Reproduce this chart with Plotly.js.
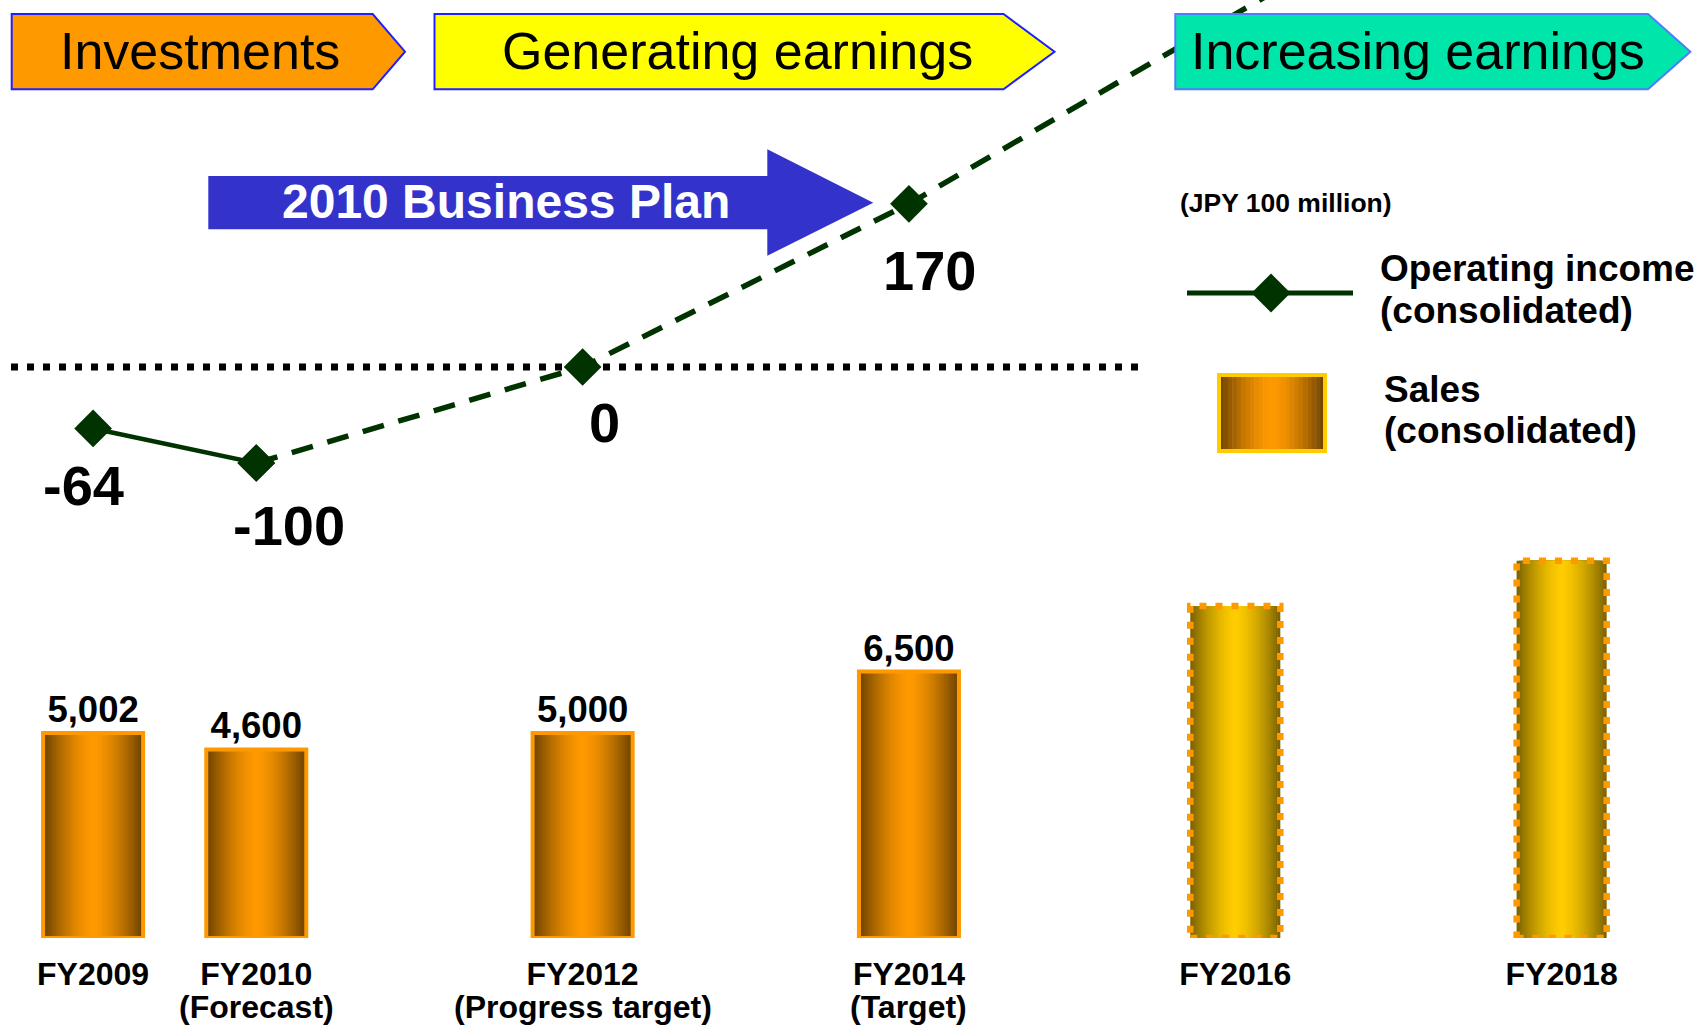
<!DOCTYPE html>
<html><head><meta charset="utf-8">
<script src="https://cdn.plot.ly/plotly-3.0.1.min.js"></script>
<style>html,body{margin:0;padding:0;background:#fff;overflow:hidden;} #chart{width:1701px;height:1026px;}</style>
</head><body><div id="chart"></div>
<script>
// ---------------- data ----------------
const salesYears = [2009, 2010, 2012, 2014, 2016, 2018];
const salesValues = [5002, 4600, 5000, 6500, 8100, 9200];
const salesOutlook = [false, false, false, false, true, true];
const tickLabels = ['FY2009', 'FY2010', 'FY2012', 'FY2014', 'FY2016', 'FY2018'];
const tickNotes = ['', '(Forecast)', '(Progress target)', '(Target)', '', ''];

const opYears = [2009, 2010, 2012, 2014, 2018];
const opValues = [-64, -100, 0, 170, 565];
const opActual = [true, true, false, false, false];
const opLabeled = [true, true, true, true, false];

const phaseLabels = ['Investments', 'Generating earnings', 'Increasing earnings'];
const planLabel = '2010 Business Plan';
const unitLabel = '(JPY 100 million)';
const legendOpLines = ['Operating income', '(consolidated)'];
const legendSalesLines = ['Sales', '(consolidated)'];

// ---------------- layout helpers ----------------
const W = 1701, H = 1026, MB = 88, PH = H - MB;
const FONT = 'Liberation Sans, Arial, sans-serif';
const px = x => x / W;
const py = y => (PH - y) / PH;
function mix(c1, c2, t) {
  const r = c1.map((v, i) => Math.round(v + (c2[i] - v) * t));
  return 'rgb(' + r.join(',') + ')';
}
const ORANGE_C = [255, 153, 0], ORANGE_E = [106, 64, 0];
const GOLD_C = [255, 204, 0], GOLD_E = [122, 96, 0];
const BW_MAIN = 0.613, BW_OUT = 0.552;
const NL = 20, GAMMA = 1.5;

const traces = [];
// gradient-filled bars built as overlaid layers of narrowing bars
for (let k = 0; k < NL; k++) {
  const f0 = 1 - k / NL, f1 = 1 - (k + 1) / NL;
  const t = Math.pow((f0 + f1) / 2, GAMMA);
  traces.push({
    type: 'bar', x: salesYears, y: salesValues,
    width: salesOutlook.map(o => (o ? BW_OUT : BW_MAIN) * f0),
    marker: { color: salesOutlook.map(o => o ? mix(GOLD_C, GOLD_E, t) : mix(ORANGE_C, ORANGE_E, t)), line: { width: 0 } },
    hoverinfo: 'skip', showlegend: false
  });
}
// outline + value labels
traces.push({
  type: 'bar', x: salesYears, y: salesValues,
  width: salesOutlook.map(o => o ? BW_OUT : BW_MAIN),
  marker: { color: 'rgba(0,0,0,0)', line: { color: '#FF9900', width: salesOutlook.map(o => o ? 0 : 4) } },
  text: salesValues.map((v, i) => salesOutlook[i] ? '' : v.toLocaleString('en-US')),
  textposition: 'outside', cliponaxis: false,
  textfont: { family: FONT, size: 36.5, color: '#000', weight: 'bold' },
  hoverinfo: 'skip', showlegend: false
});

// operating income line
const lastActual = opActual.lastIndexOf(true);
traces.push({
  type: 'scatter', mode: 'lines+markers', yaxis: 'y2',
  x: opYears.slice(0, lastActual + 1), y: opValues.slice(0, lastActual + 1),
  line: { color: '#003300', width: 4.5 },
  marker: { symbol: 'diamond', size: 29, color: '#003300' },
  hoverinfo: 'skip', showlegend: false
});
traces.push({
  type: 'scatter', mode: 'lines+markers', yaxis: 'y2',
  x: opYears.slice(lastActual), y: opValues.slice(lastActual),
  line: { color: '#003300', width: 5.5, dash: '22px,15px' },
  marker: { symbol: 'diamond', size: 29, color: '#003300' },
  hoverinfo: 'skip', showlegend: false
});

// ---------------- shapes ----------------
const shapes = [];
// zero reference line for operating income
shapes.push({ type: 'line', xref: 'paper', yref: 'y2', x0: px(11), x1: px(1139), y0: 0, y1: 0,
  line: { color: '#000', width: 7, dash: '7px,9px' }, layer: 'below' });
// dotted outlines of outlook bars
salesYears.forEach((yr, i) => {
  if (salesOutlook[i]) shapes.push({ type: 'rect', xref: 'x', yref: 'y',
    x0: yr - BW_OUT / 2, x1: yr + BW_OUT / 2, y0: 0, y1: salesValues[i],
    line: { color: '#FF9900', width: 6.5, dash: '7px,9px' }, fillcolor: 'rgba(0,0,0,0)', layer: 'above' });
});
// phase header arrows
const phaseBoxes = [
  { x0: 11.7, x1: 372.7, tip: 405, cx: 200, fill: '#FF9900', line: '#1F1FFF' },
  { x0: 434.5, x1: 1003.5, tip: 1054.5, cx: 737, fill: '#FFFF00', line: '#1F1FFF' },
  { x0: 1175.3, x1: 1648, tip: 1690.4, cx: 1418, fill: '#00E6AA', line: '#4D7CFF' }
];
const pth = pts => 'M ' + pts.map(p => px(p[0]) + ',' + py(p[1])).join(' L ') + ' Z';
phaseBoxes.forEach(b => {
  shapes.push({ type: 'path', xref: 'paper', yref: 'paper', layer: 'above',
    path: pth([[b.x0, 14], [b.x1, 14], [b.tip, 51.7], [b.x1, 89.3], [b.x0, 89.3]]),
    fillcolor: b.fill, line: { color: b.line, width: 2 } });
});
// business plan arrow
shapes.push({ type: 'path', xref: 'paper', yref: 'paper', layer: 'above',
  path: pth([[208.3, 176], [767.3, 176], [767.3, 149.3], [873.3, 202.7], [767.3, 255.7], [767.3, 229.3], [208.3, 229.3]]),
  fillcolor: '#3333CC', line: { width: 0 } });
// legend: line with diamond
shapes.push({ type: 'line', xref: 'paper', yref: 'paper', x0: px(1187), x1: px(1353), y0: py(293), y1: py(293),
  line: { color: '#003300', width: 5 }, layer: 'above' });
shapes.push({ type: 'path', xref: 'paper', yref: 'paper', layer: 'above',
  path: pth([[1271, 273.5], [1290.5, 293], [1271, 312.5], [1251.5, 293]]), fillcolor: '#003300', line: { width: 0 } });
// legend: gradient box
const LX0 = 1219, LX1 = 1325, LY0 = 375, LY1 = 451, NS = 24;
for (let s = 0; s < NS; s++) {
  const a = LX0 + (LX1 - LX0) * s / NS, b = LX0 + (LX1 - LX0) * (s + 1) / NS;
  const mid = (a + b) / 2, c = (LX0 + LX1) / 2;
  const t = Math.pow(Math.abs(mid - c) / ((LX1 - LX0) / 2), GAMMA);
  shapes.push({ type: 'rect', xref: 'paper', yref: 'paper', layer: 'above',
    x0: px(a), x1: px(b + 0.5), y0: py(LY1), y1: py(LY0), fillcolor: mix(ORANGE_C, ORANGE_E, t), line: { width: 0 } });
}
shapes.push({ type: 'rect', xref: 'paper', yref: 'paper', layer: 'above',
  x0: px(LX0), x1: px(LX1), y0: py(LY1), y1: py(LY0), fillcolor: 'rgba(0,0,0,0)', line: { color: '#FFCC00', width: 4 } });

// ---------------- annotations ----------------
const ann = [];
const C = { xanchor: 'center', yanchor: 'middle', showarrow: false };
phaseLabels.forEach((t, i) => ann.push(Object.assign({ xref: 'paper', yref: 'paper', x: px(phaseBoxes[i].cx), y: py(50.5),
  text: t, font: { family: FONT, size: 52, color: '#000' } }, C)));
ann.push(Object.assign({ xref: 'paper', yref: 'paper', x: px(506), y: py(201.5), text: planLabel,
  font: { family: FONT, size: 48, color: '#FFF', weight: 'bold' } }, C));
ann.push(Object.assign({ xref: 'paper', yref: 'paper', x: px(1286), y: py(203), text: unitLabel,
  font: { family: FONT, size: 26.5, color: '#000', weight: 'bold' } }, C));
const legFont = { family: FONT, size: 37, color: '#000', weight: 'bold' };
[[legendOpLines[0], 1378, 269], [legendOpLines[1], 1378, 310], [legendSalesLines[0], 1382, 389.5], [legendSalesLines[1], 1382, 430]]
  .forEach(([t, x, y]) => ann.push({ xref: 'paper', yref: 'paper', x: px(x), y: py(y), xanchor: 'left', yanchor: 'middle',
    text: t, showarrow: false, font: legFont }));
const opLabelShift = [[-10, -57], [33, -62], [22, -55], [21, -67]];
opYears.forEach((yr, i) => {
  if (!opLabeled[i]) return;
  ann.push(Object.assign({ xref: 'x', yref: 'y2', x: yr, y: opValues[i], text: String(opValues[i]),
    xshift: opLabelShift[i][0], yshift: opLabelShift[i][1],
    font: { family: FONT, size: 56, color: '#000', weight: 'bold' } }, C));
});
// second line of the category labels
salesYears.forEach((yr, i) => {
  if (!tickNotes[i]) return;
  ann.push(Object.assign({ xref: 'x', yref: 'paper', x: yr, y: py(1007), text: tickNotes[i],
    font: { family: FONT, size: 32, color: '#000', weight: 'bold' } }, C));
});

// ---------------- layout ----------------
const XPX0 = 93.1, XPY = 163.17;
const xmin = 2009 - XPX0 / XPY, xmax = xmin + W / XPY;
const YB = 0.041; // px per sales unit
const Y2S = 0.96, Y2Z = 367; // px per income unit, zero position
const layout = {
  width: W, height: H, margin: { l: 0, r: 0, t: 0, b: MB },
  paper_bgcolor: '#fff', plot_bgcolor: '#fff', barmode: 'overlay', showlegend: false,
  hovermode: false, font: { family: FONT },
  xaxis: { range: [xmin, xmax], tickmode: 'array', tickvals: salesYears, ticktext: tickLabels,
    showgrid: false, zeroline: false, showline: false, ticks: '', ticklabelstandoff: 14,
    tickfont: { family: FONT, size: 32, color: '#000', weight: 'bold' }, fixedrange: true },
  yaxis: { range: [0, PH / YB], visible: false, fixedrange: true },
  yaxis2: { overlaying: 'y', range: [-(PH - Y2Z) / Y2S, Y2Z / Y2S], visible: false, fixedrange: true },
  shapes: shapes, annotations: ann
};
Plotly.newPlot('chart', traces, layout, { displayModeBar: false, staticPlot: true });
</script>
</body></html>
